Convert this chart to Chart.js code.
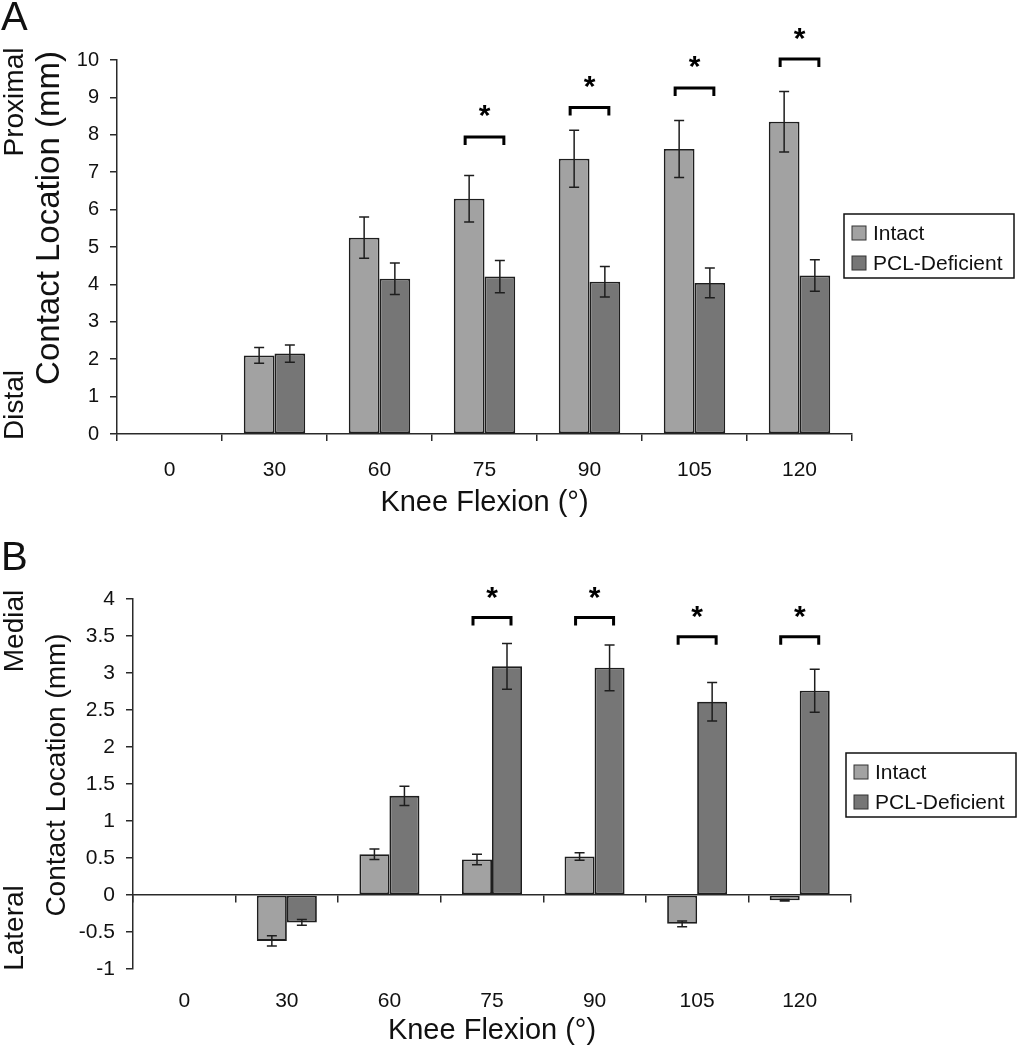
<!DOCTYPE html>
<html>
<head>
<meta charset="utf-8">
<script src="https://cdn.jsdelivr.net/npm/chart.js@4.4.0/dist/chart.umd.min.js"></script>
<style>
  html, body { margin: 0; padding: 0; background: #fff; }
  #wrap { position: relative; width: 1018px; height: 1050px; }
  canvas { position: absolute; left: 0; }
  #chartA { top: 0; }
  #chartB { top: 520px; }
</style>
</head>
<body>
<div id="wrap">
  <canvas id="chartA" width="1018" height="520"></canvas>
  <canvas id="chartB" width="1018" height="530"></canvas>
</div>
<script>
const flexion = ['0', '30', '60', '75', '90', '105', '120'];

// Panel A: proximal / distal contact location (mm)
const intactA    = [0, 2.10, 5.25, 6.29, 7.36, 7.62, 8.35];
const intactErrA = [0, 0.21, 0.55, 0.62, 0.76, 0.76, 0.81];
const pclA       = [0, 2.15, 4.15, 4.21, 4.07, 4.04, 4.24];
const pclErrA    = [0, 0.23, 0.42, 0.43, 0.41, 0.40, 0.42];
const bracketA   = [null, null, null, 7.94, 8.73, 9.25, 10.03];
const starA      = [null, null, null, 8.64, 9.42, 9.94, 10.70];

// Panel B: medial / lateral contact location (mm)
const intactB    = [0, -0.62, 0.55, 0.48, 0.52, -0.39, -0.07];
const intactErrB = [0, 0.07, 0.07, 0.07, 0.05, 0.04, 0.01];
const pclB       = [0, -0.37, 1.34, 3.09, 3.07, 2.61, 2.76];
const pclErrB    = [0, 0.04, 0.13, 0.31, 0.31, 0.26, 0.29];
const bracketB   = [null, null, null, 3.75, 3.75, 3.49, 3.49];
const starB      = [null, null, null, 4.08, 4.08, 3.83, 3.83];

const FONT = '"Liberation Sans", Arial, Helvetica, sans-serif';
const TEXT = '#111';
const AXIS = '#2a2a2a';
const EDGE = '#1e1e1e';
const INTACT = '#a2a2a2';
const PCL = '#767676';

function drawText(ctx, str, x, y, size, rotate) {
  ctx.save();
  ctx.translate(x, y);
  if (rotate) ctx.rotate(-Math.PI / 2);
  ctx.font = size + 'px ' + FONT;
  ctx.fillStyle = TEXT;
  ctx.textAlign = 'center';
  ctx.textBaseline = 'middle';
  ctx.fillText(str, 0, 0);
  ctx.restore();
}

// error bars, significance brackets, side labels and legend
function panelPlugin(p) {
  return {
    id: 'panel' + p.letter,
    afterDatasetsDraw(chart) {
      const ctx = chart.ctx;
      const y = chart.scales.y;
      ctx.save();
      ctx.strokeStyle = EDGE;
      ctx.lineWidth = 1.5;
      chart.data.datasets.forEach((ds, di) => {
        const meta = chart.getDatasetMeta(di);
        ds.data.forEach((v, i) => {
          const e = ds.errors[i];
          if (!e) return;
          const x = meta.data[i].x;
          const y1 = y.getPixelForValue(v + e);
          const y2 = y.getPixelForValue(v - e);
          ctx.beginPath();
          ctx.moveTo(x, y1); ctx.lineTo(x, y2);
          ctx.moveTo(x - 5, y1); ctx.lineTo(x + 5, y1);
          ctx.moveTo(x - 5, y2); ctx.lineTo(x + 5, y2);
          ctx.stroke();
        });
      });
      ctx.restore();
    },
    afterDraw(chart) {
      const ctx = chart.ctx;
      const y = chart.scales.y;
      const m0 = chart.getDatasetMeta(0);
      const m1 = chart.getDatasetMeta(1);

      // brackets + asterisks
      ctx.save();
      ctx.strokeStyle = '#000';
      ctx.lineWidth = 3;
      ctx.font = 'bold 30px ' + FONT;
      ctx.fillStyle = '#000';
      ctx.textAlign = 'center';
      ctx.textBaseline = 'alphabetic';
      const tm = ctx.measureText('*');
      const shift = (tm.actualBoundingBoxAscent - tm.actualBoundingBoxDescent) / 2;
      p.bracket.forEach((lvl, i) => {
        if (lvl == null) return;
        const x0 = m0.data[i].x - 4;
        const x1 = m1.data[i].x + 4;
        const yb = y.getPixelForValue(lvl);
        ctx.beginPath();
        ctx.moveTo(x0, yb + 8); ctx.lineTo(x0, yb); ctx.lineTo(x1, yb); ctx.lineTo(x1, yb + 8);
        ctx.stroke();
        const ys = y.getPixelForValue(p.star[i]);
        ctx.fillText('*', (x0 + x1) / 2, ys + shift);
      });
      ctx.restore();

      // panel letter and y-axis labels
      ctx.save();
      ctx.font = '40px ' + FONT;
      ctx.fillStyle = TEXT;
      ctx.textAlign = 'left';
      ctx.textBaseline = 'alphabetic';
      ctx.fillText(p.letter, 1, p.letterY);
      ctx.restore();
      drawText(ctx, p.top[0], 15, p.top[1], 28, true);
      drawText(ctx, p.bottom[0], 15, p.bottom[1], 28, true);
      drawText(ctx, 'Contact Location (mm)', p.title[0], p.title[1], p.title[2], true);

      // legend
      const L = p.legend;
      ctx.save();
      ctx.fillStyle = '#fff';
      ctx.fillRect(L.x, L.y, 170, 64);
      ctx.strokeStyle = '#111';
      ctx.lineWidth = 1.5;
      ctx.strokeRect(L.x, L.y, 170, 64);
      chart.data.datasets.forEach((ds, di) => {
        const cy = L.y + 19 + di * 30;
        ctx.fillStyle = ds.backgroundColor;
        ctx.fillRect(L.x + 8, cy - 7, 14, 14);
        ctx.strokeStyle = '#333';
        ctx.lineWidth = 1;
        ctx.strokeRect(L.x + 8, cy - 7, 14, 14);
        ctx.fillStyle = TEXT;
        ctx.font = '21px ' + FONT;
        ctx.textAlign = 'left';
        ctx.textBaseline = 'middle';
        ctx.fillText(ds.label, L.x + 29, cy + 1);
      });
      ctx.restore();
    }
  };
}

function datasets(intact, intactErr, pcl, pclErr) {
  const common = { borderColor: EDGE, borderWidth: 1.8, borderSkipped: false, categoryPercentage: 0.585, barPercentage: 1 };
  return [
    Object.assign({ label: 'Intact', data: intact, errors: intactErr, backgroundColor: INTACT }, common),
    Object.assign({ label: 'PCL-Deficient', data: pcl, errors: pclErr, backgroundColor: PCL }, common)
  ];
}

const xTitle = { display: true, text: 'Knee Flexion (°)', color: TEXT, font: { family: FONT, size: 29 } };
const gridAxis = { drawOnChartArea: false, drawTicks: true, tickLength: 7, color: AXIS, lineWidth: 1.5 };
const borderAxis = { color: AXIS, width: 1.5 };

// Panel A
new Chart(document.getElementById('chartA'), {
  type: 'bar',
  data: { labels: flexion, datasets: datasets(intactA, intactErrA, pclA, pclErrA) },
  options: {
    responsive: false, animation: false, devicePixelRatio: 1,
    layout: { padding: { top: 60, right: 166, left: 0, bottom: 0 } },
    plugins: { legend: { display: false }, tooltip: { enabled: false } },
    scales: {
      x: {
        offset: true,
        grid: Object.assign({ offset: true }, gridAxis),
        border: borderAxis,
        ticks: { color: TEXT, font: { family: FONT, size: 21 }, padding: 17, maxRotation: 0 },
        title: Object.assign({ padding: { top: 0, bottom: 0 } }, xTitle),
        afterFit: s => { s.height = 86; }
      },
      y: {
        min: 0, max: 10,
        grid: gridAxis,
        border: borderAxis,
        ticks: { stepSize: 1, color: TEXT, font: { family: FONT, size: 20 }, padding: 11 },
        afterFit: s => { s.width = 117; }
      }
    }
  },
  plugins: [panelPlugin({
    letter: 'A', letterY: 30,
    top: ['Proximal', 102], bottom: ['Distal', 405],
    title: [50, 218, 33],
    bracket: bracketA, star: starA,
    legend: { x: 844, y: 214 }
  })]
});

// Panel B
new Chart(document.getElementById('chartB'), {
  type: 'bar',
  data: { labels: flexion, datasets: datasets(intactB, intactErrB, pclB, pclErrB) },
  options: {
    responsive: false, animation: false, devicePixelRatio: 1,
    layout: { padding: { top: 79, right: 167, left: 0, bottom: 0 } },
    plugins: { legend: { display: false }, tooltip: { enabled: false } },
    scales: {
      x: {
        position: { y: 0 },
        offset: true,
        grid: Object.assign({ offset: true }, gridAxis),
        border: borderAxis,
        ticks: { display: false }
      },
      x2: {
        type: 'category',
        position: 'bottom',
        offset: true,
        grid: { display: false },
        border: { display: false },
        ticks: { color: TEXT, font: { family: FONT, size: 21 }, padding: 12, maxRotation: 0 },
        title: Object.assign({ padding: { top: 0, bottom: 2 } }, xTitle),
        afterFit: s => { s.height = 81; }
      },
      y: {
        min: -1, max: 4,
        grid: gridAxis,
        border: borderAxis,
        ticks: { stepSize: 0.5, color: TEXT, font: { family: FONT, size: 21 }, padding: 11,
                 callback: v => String(v) },
        afterFit: s => { s.width = 133; }
      }
    }
  },
  plugins: [panelPlugin({
    letter: 'B', letterY: 50,
    top: ['Medial', 111], bottom: ['Lateral', 408],
    title: [57, 255, 28],
    bracket: bracketB, star: starB,
    legend: { x: 846, y: 233 }
  })]
});
</script>
</body>
</html>
